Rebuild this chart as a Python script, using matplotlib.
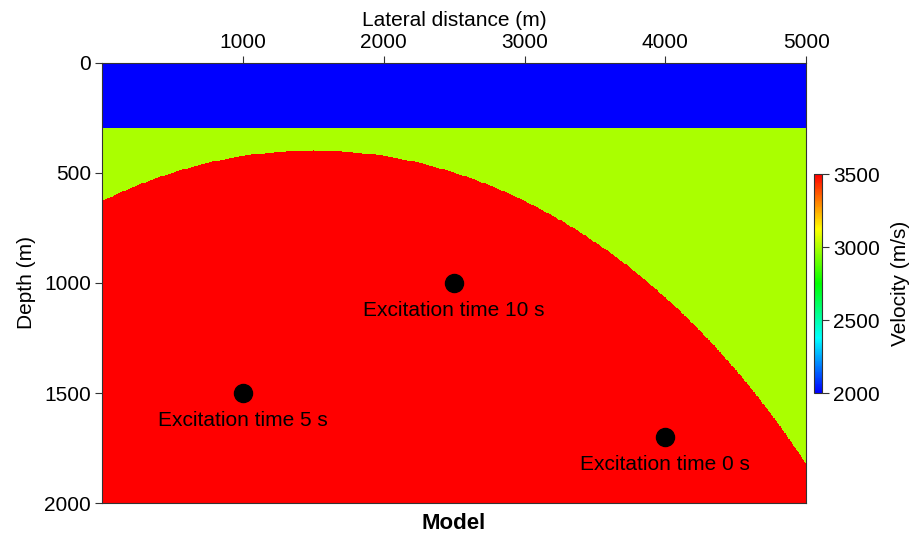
#!/usr/bin/env python3

import numpy as np
import matplotlib
matplotlib.use('Agg')
import matplotlib.pyplot as plt
from matplotlib.colors import LinearSegmentedColormap

# model geometry (m) and velocities (m/s)
x_max, z_max = 5000, 2000
dx = 4
top_layer_depth = 300
circle_center = (1500, 5400)
circle_radius = 5000
v_top, v_mid, v_bottom = 2000, 3000, 3500
v_min, v_max = 2000, 3500

# source positions and labels
src_x = [1000, 2500, 4000]
src_z = [1500, 1000, 1700]
src_labels = ['Excitation time 5 s', 'Excitation time 10 s', 'Excitation time 0 s']


def main():
    plt.rcParams['font.family'] = ['Liberation Sans', 'DejaVu Sans']
    fs = 15

    xs = np.arange(0, x_max + dx, dx)
    zs = np.arange(0, z_max + dx, dx)
    X, Z = np.meshgrid(xs, zs)
    vel = np.full(X.shape, float(v_mid))
    vel[Z < top_layer_depth] = v_top
    inside = (X - circle_center[0])**2 + (Z - circle_center[1])**2 <= circle_radius**2
    vel[inside] = v_bottom

    cmap = LinearSegmentedColormap.from_list(
        'bcgyr', ['#0000ff', '#00ffff', '#00ff00', '#ffff00', '#ff0000'])

    fig = plt.figure(figsize=(9.17, 5.38), dpi=100)
    ax = fig.add_axes([0.1112, 0.065, 0.768, 0.818])
    im = ax.imshow(vel, cmap=cmap, vmin=v_min, vmax=v_max, aspect='auto',
                   extent=[0, x_max, z_max, 0], interpolation='nearest')
    ax.set_xlim(0, x_max)
    ax.set_ylim(z_max, 0)

    ax.plot(src_x, src_z, 'o', color='black', markersize=13)
    for x, z, lab in zip(src_x, src_z, src_labels):
        ax.text(x, z + 82, lab, ha='center', va='top', fontsize=fs)

    ax.xaxis.tick_top()
    ax.xaxis.set_label_position('top')
    ax.set_xticks([1000, 2000, 3000, 4000, 5000])
    ax.set_yticks([0, 500, 1000, 1500, 2000])
    ax.tick_params(labelsize=fs, length=5, color='#333333', pad=3)
    ax.set_xlabel('Lateral distance (m)', fontsize=fs, labelpad=5)
    ax.set_ylabel('Depth (m)', fontsize=fs, labelpad=6)
    for s in ax.spines.values():
        s.set_color('#333333')

    fig.text(0.4951, 0.027, 'Model', ha='center', va='center',
             fontsize=16, fontweight='bold')

    cax = fig.add_axes([0.8877, 0.2695, 0.0087, 0.407])
    cb = fig.colorbar(im, cax=cax, ticks=[2000, 2500, 3000, 3500])
    cb.ax.tick_params(labelsize=fs, length=5, color='#333333', pad=3)
    cb.outline.set_edgecolor('#333333')
    cb.set_label('Velocity (m/s)', fontsize=fs, labelpad=8)

    fig.savefig('out.png', dpi=100)


if __name__ == '__main__':
    main()
